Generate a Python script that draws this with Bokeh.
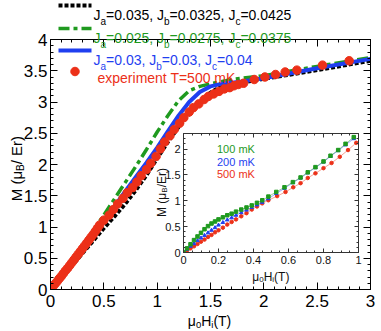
import math
from bokeh.plotting import figure
from bokeh.models import (LinearAxis, Label, Legend, LegendItem, Range1d,
                          SingleIntervalTicker, CustomJSTickFormatter)
from bokeh.layouts import column
from bokeh.embed import file_html
from bokeh.resources import INLINE

# ---------------- data ----------------
# main panel: calculated curves
h_black = [0, 0.1, 0.2, 0.3, 0.4, 0.5, 0.6, 0.7, 0.8, 0.9, 1.0, 1.1, 1.2, 1.3, 1.4, 1.5, 1.6, 1.75, 2.0, 2.5, 3.0]
m_black = [0, 0.19, 0.38, 0.58, 0.78, 0.98, 1.17, 1.37, 1.59, 1.83, 2.1, 2.36, 2.6, 2.81, 2.99, 3.15, 3.25, 3.3, 3.37, 3.51, 3.66]
h_green = [0, 0.1, 0.2, 0.3, 0.4, 0.5, 0.6, 0.7, 0.8, 0.9, 1.0, 1.1, 1.2, 1.3, 1.4, 1.5, 1.7, 2.0, 2.5, 3.0]
m_green = [0, 0.22, 0.45, 0.69, 0.94, 1.19, 1.45, 1.71, 1.97, 2.24, 2.52, 2.78, 3.02, 3.18, 3.25, 3.29, 3.36, 3.42, 3.57, 3.71]
h_blue = [0, 0.1, 0.2, 0.3, 0.4, 0.5, 0.6, 0.7, 0.8, 0.9, 1.0, 1.1, 1.2, 1.3, 1.4, 1.5, 1.6, 1.8, 2.0, 2.5, 3.0]
m_blue = [0, 0.2, 0.41, 0.63, 0.86, 1.09, 1.33, 1.57, 1.8, 2.03, 2.27, 2.53, 2.78, 3.0, 3.16, 3.25, 3.29, 3.33, 3.38, 3.54, 3.69]
# main panel: experiment T = 500 mK
h_exp = [0, 0.02, 0.04, 0.06, 0.08, 0.10, 0.12, 0.14, 0.16, 0.18, 0.20, 0.22, 0.24, 0.26, 0.28, 0.30,
         0.32, 0.34, 0.36, 0.38, 0.40, 0.42, 0.44, 0.46, 0.50, 0.55, 0.59, 0.63, 0.68, 0.72, 0.77, 0.81,
         0.85, 0.90, 0.94, 0.99, 1.03, 1.07, 1.12, 1.16, 1.21, 1.25, 1.30, 1.34, 1.39, 1.44, 1.48, 1.53,
         1.58, 1.63, 1.68, 1.72, 1.76, 1.81, 1.91, 2.01, 2.11, 2.20, 2.31, 2.55, 2.80]
m_exp = [0, 0.04, 0.085, 0.125, 0.17, 0.21, 0.255, 0.30, 0.34, 0.385, 0.43, 0.475, 0.52, 0.565, 0.61, 0.655,
         0.70, 0.745, 0.79, 0.835, 0.88, 0.93, 0.98, 1.03, 1.11, 1.19, 1.28, 1.37, 1.46, 1.55, 1.63, 1.72,
         1.82, 1.92, 2.02, 2.13, 2.25, 2.36, 2.46, 2.56, 2.66, 2.75, 2.84, 2.91, 2.97, 3.04, 3.09, 3.13,
         3.17, 3.21, 3.23, 3.26, 3.28, 3.30, 3.36, 3.40, 3.44, 3.48, 3.51, 3.59, 3.66]
# inset
h_100 = [0, 0.02, 0.04, 0.06, 0.08, 0.10, 0.12, 0.14, 0.16, 0.18, 0.20, 0.225, 0.25, 0.275, 0.30, 0.33,
         0.36, 0.39, 0.42, 0.45, 0.485, 0.53, 0.577, 0.625, 0.669, 0.71, 0.754, 0.80, 0.84, 0.884, 0.926, 0.973]
m_100 = [0, 0.08, 0.16, 0.24, 0.31, 0.38, 0.45, 0.51, 0.56, 0.60, 0.64, 0.68, 0.72, 0.75, 0.79, 0.83,
         0.87, 0.91, 0.96, 1.01, 1.08, 1.17, 1.26, 1.36, 1.45, 1.55, 1.65, 1.76, 1.87, 1.98, 2.10, 2.23]
h_200 = [0, 0.02, 0.04, 0.06, 0.08, 0.10, 0.12, 0.14, 0.16, 0.18, 0.20, 0.225, 0.25, 0.275, 0.30, 0.33,
         0.36, 0.39, 0.42, 0.45, 0.485, 0.53, 0.577, 0.625, 0.669, 0.71, 0.754, 0.80, 0.84, 0.884, 0.926, 0.973]
m_200 = [0, 0.06, 0.12, 0.17, 0.23, 0.28, 0.33, 0.38, 0.43, 0.48, 0.53, 0.58, 0.63, 0.67, 0.72, 0.77,
         0.82, 0.87, 0.92, 0.97, 1.04, 1.14, 1.24, 1.35, 1.44, 1.54, 1.64, 1.75, 1.86, 1.97, 2.08, 2.20]
h_500 = [0, 0.02, 0.04, 0.06, 0.08, 0.10, 0.12, 0.14, 0.16, 0.18, 0.20, 0.225, 0.25, 0.275, 0.30, 0.33,
         0.36, 0.39, 0.42, 0.45, 0.485, 0.535, 0.583, 0.627, 0.669, 0.71, 0.754, 0.80, 0.846, 0.893, 0.94, 0.987]
m_500 = [0, 0.04, 0.08, 0.12, 0.165, 0.21, 0.25, 0.30, 0.34, 0.39, 0.43, 0.48, 0.54, 0.59, 0.64, 0.70,
         0.76, 0.83, 0.89, 0.95, 1.01, 1.09, 1.17, 1.26, 1.34, 1.44, 1.53, 1.63, 1.73, 1.85, 1.98, 2.12]

legend_rows = [
    [("J", 0), ("a", 1), ("=0.035, J", 0), ("b", 1), ("=0.0325, J", 0), ("c", 1), ("=0.0425", 0)],
    [("J", 0), ("a", 1), ("=0.025, J", 0), ("b", 1), ("=0.0275, J", 0), ("c", 1), ("=0.0375", 0)],
    [("J", 0), ("a", 1), ("=0.03, J", 0), ("b", 1), ("=0.03, J", 0), ("c", 1), ("=0.04", 0)],
    [("experiment T=500 mK", 0)],
]
inset_labels = ["100 mK", "200 mK", "500 mK"]
x_title = [("μ", 0), ("0", 1), ("H", 0), ("i", 1), (" (T)", 0)]
y_title = [("M (μ", 0), ("B", 1), (" / Er)", 0)]
y_title_inset = [("M (μ", 0), ("B", 1), ("/Er)", 0)]

# ---------------- styling / layout constants ----------------
FONT = "Liberation Sans"
BLACK, GREEN, BLUE, RED = "#000000", "#1f9a1f", "#1f3ff0", "#ec3018"
W, H = 380, 330
FL, FR, FT, FB = 50, 370, 39, 289          # main frame edges (page px)
IL, IR, IT, IB = 183, 358, 133, 252        # inset frame edges (page px)
ILEFT, ITOP = 148, 130                      # inset figure origin (page px)
KEY_X0, KEY_X1 = 58, 91                     # legend key extent (page px)
KEY_Y = [5, 28, 50, 71]                     # legend key rows (page px)
ROW_BASE = [14.5, 37, 59, 77]               # legend text baselines
ROW_X = [93, 93, 93, 97]

ADV = {' ': .278, '(': .333, ')': .333, ',': .278, '.': .278, '/': .278, '=': .584,
       'B': .667, 'E': .667, 'H': .722, 'J': .5, 'K': .667, 'M': .833, 'T': .611,
       'a': .556, 'b': .556, 'c': .5, 'e': .556, 'i': .222, 'm': .833, 'n': .556,
       'p': .556, 'r': .333, 't': .278, 'x': .5, 'μ': .577}


def text_w(s, size):
    return sum(ADV.get(ch, .556) for ch in s) * size


num_fmt = CustomJSTickFormatter(code="return Number(tick.toFixed(3)).toString()")
no_fmt = CustomJSTickFormatter(code="return ''")


def style_axis(ax, ticker, fmt, size, tin, mtin, color, lcolor, labels=True):
    ax.ticker = ticker
    ax.formatter = fmt
    ax.axis_line_color = color
    ax.major_tick_line_color = color
    ax.minor_tick_line_color = color
    ax.major_tick_in = tin
    ax.major_tick_out = 0
    ax.minor_tick_in = mtin
    ax.minor_tick_out = 0
    ax.major_label_text_font = FONT
    ax.major_label_text_color = lcolor
    if labels:
        ax.major_label_text_font_size = f"{size}px"
    else:
        ax.major_label_text_font_size = "0px"
        ax.major_label_standoff = 0


# ---------------- main figure ----------------
p = figure(width=W, height=H, x_range=Range1d(0, 3), y_range=Range1d(0, 4),
           output_backend="svg", toolbar_location=None, frame_align=False,
           min_border_left=FL, min_border_right=W - FR, min_border_top=FT, min_border_bottom=H - FB)
p.grid.visible = False
p.outline_line_color = None
p.background_fill_color = "white"
p.border_fill_color = "white"

xt = SingleIntervalTicker(interval=0.5, num_minor_ticks=5)
yt = SingleIntervalTicker(interval=0.5, num_minor_ticks=5)
style_axis(p.xaxis[0], xt, num_fmt, 17, 7, 3, BLACK, BLACK)
style_axis(p.yaxis[0], yt, num_fmt, 17, 7, 3, BLACK, BLACK)
p.xaxis[0].major_label_standoff = 5
p.yaxis[0].major_label_standoff = 3
top_ax = LinearAxis()
right_ax = LinearAxis()
style_axis(top_ax, xt, no_fmt, 16, 7, 3, BLACK, BLACK, labels=False)
style_axis(right_ax, yt, no_fmt, 16, 7, 3, BLACK, BLACK, labels=False)
p.add_layout(top_ax, "above")
p.add_layout(right_ax, "right")

STY_BLACK = dict(line_color=BLACK, line_width=4, line_dash="4 2")
STY_GREEN = dict(line_color=GREEN, line_width=3.5, line_dash="11 4 4 4")
STY_BLUE = dict(line_color=BLUE, line_width=4)
STY_RED = dict(marker="circle", size=8.5, fill_color=RED, line_color=RED)

p.line(h_black, m_black, **STY_BLACK)
p.line(h_green, m_green, **STY_GREEN)
p.line(h_blue, m_blue, **STY_BLUE)
p.scatter(h_exp, m_exp, **STY_RED)

# ---------------- inset figure ----------------
GRAY = "#333333"
ins = figure(width=IR - ILEFT + 5, height=IB - ITOP + 32, x_range=Range1d(0, 1), y_range=Range1d(0, 2.3),
             output_backend="svg", toolbar_location=None, frame_align=False,
             min_border_left=IL - ILEFT, min_border_right=5, min_border_top=IT - ITOP, min_border_bottom=32,
             styles={"position": "absolute", "left": f"{ILEFT}px", "top": f"{ITOP}px"})
ins.grid.visible = False
ins.outline_line_color = None
ins.background_fill_color = "white"
ins.border_fill_alpha = 0
ixt = SingleIntervalTicker(interval=0.2, num_minor_ticks=4)
iyt = SingleIntervalTicker(interval=0.5, num_minor_ticks=5)
style_axis(ins.xaxis[0], ixt, num_fmt, 11, 4, 2, GRAY, "#111111")
style_axis(ins.yaxis[0], iyt, num_fmt, 11, 4, 2, GRAY, "#111111")
ins.xaxis[0].major_label_standoff = 3
ins.yaxis[0].major_label_standoff = 3
for side, tk in (("above", ixt), ("right", iyt)):
    a = LinearAxis()
    style_axis(a, tk, no_fmt, 11, 4, 2, GRAY, GRAY, labels=False)
    ins.add_layout(a, side)

inset_series = [(h_500, m_500, RED, "circle"), (h_200, m_200, BLUE, "triangle"), (h_100, m_100, GREEN, "square")]
for hx, my, c, mk in inset_series:
    ins.line(hx, my, line_color=c, line_alpha=0.45, line_width=1)
    ins.scatter(hx, my, marker=mk, size=3.5, fill_color=c, line_color=c)

# ---------------- text / legend overlay (page-pixel coordinates) ----------------
ann = figure(width=W, height=H, x_range=Range1d(0, W), y_range=Range1d(H, 0),
             output_backend="svg", toolbar_location=None, x_axis_type=None, y_axis_type=None,
             frame_align=False, min_border=0,
             styles={"position": "absolute", "left": "0px", "top": "0px"})
ann.outline_line_color = None
ann.background_fill_alpha = 0
ann.border_fill_alpha = 0
ann.grid.visible = False


def rich(pieces, x0, y0, size, sub_size, drop, color, vertical=False, center=False):
    total = sum(text_w(t, sub_size if s else size) for t, s in pieces)
    pos = (y0 + total / 2 if vertical else x0 - total / 2) if center else (y0 if vertical else x0)
    for t, s in pieces:
        fs = sub_size if s else size
        if vertical:
            px, py = x0 + (drop if s else 0), pos
        else:
            px, py = pos, y0 + (drop if s else 0)
        ann.add_layout(Label(x=px, y=py, text=t, text_font=FONT, text_font_size=f"{fs}px",
                             text_color=color, text_baseline="alphabetic", text_align="left",
                             angle=math.pi / 2 if vertical else 0))
        adv = text_w(t, fs)
        pos = pos - adv if vertical else pos + adv


# main legend keys, styled like the data renderers
for sty, ky in zip((STY_BLACK, STY_GREEN, STY_BLUE), KEY_Y[:3]):
    ann.line([KEY_X0, KEY_X1], [ky, ky], **sty)
ann.scatter([(KEY_X0 + KEY_X1) / 2], [KEY_Y[3]], **STY_RED)

for pieces, col, yb, xb in zip(legend_rows, [BLACK, GREEN, BLUE, RED], ROW_BASE, ROW_X):
    rich(pieces, xb, yb, 14, 10, 6.5, col)

rich(x_title, 211, 320.5, 14, 9.5, 3.5, BLACK, center=True)
rich(y_title, 15.5, 166, 15, 10, 4, BLACK, vertical=True, center=True)

# inset legends
for lab, c, mk, cy in zip(inset_labels, [GREEN, BLUE, RED], ["square", "triangle", "circle"], [149, 161.5, 174]):
    kl = ann.line([], [], line_color=c, line_alpha=0.45, line_width=1)
    ks = ann.scatter([], [], marker=mk, size=3.5, fill_color=c, line_color=c)
    lg = Legend(items=[LegendItem(label=lab, renderers=[kl, ks])],
                location=(197, H - (cy + 6)), glyph_width=16, glyph_height=12, label_height=12,
                padding=0, margin=0, spacing=0, label_standoff=4,
                label_text_font=FONT, label_text_font_size="11px", label_text_color=c,
                border_line_alpha=0, background_fill_alpha=0)
    ann.add_layout(lg)

rich(x_title, 272, 276, 12, 8, 3, "#111111", center=True)
rich(y_title_inset, 161, 192, 12, 8, 3, "#111111", vertical=True, center=True)

layout = column(p, ins, ann, styles={"position": "absolute", "left": "0px", "top": "0px"})
open("out.html", "w").write(file_html(layout, INLINE))
